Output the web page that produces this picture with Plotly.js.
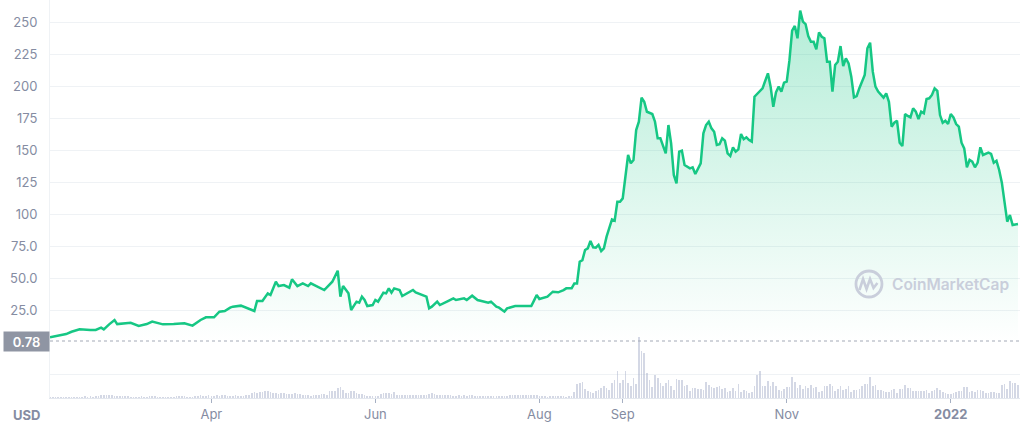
<!DOCTYPE html>
<html>
<head>
<meta charset="utf-8">
<script src="https://cdn.plot.ly/plotly-3.0.1.min.js"></script>
<style>
  html, body { margin: 0; padding: 0; background: #ffffff; }
  #chart { width: 1024px; height: 425px; }
</style>
</head>
<body>
<div id="chart"></div>
<script>
// ---- price series (USD) ----
const priceDates = [
  '2021-01-31','2021-02-04','2021-02-06','2021-02-08','2021-02-11','2021-02-15','2021-02-17','2021-02-19','2021-02-20','2021-02-22',
  '2021-02-24','2021-02-25','2021-03-01','2021-03-02','2021-03-05','2021-03-08','2021-03-10','2021-03-12','2021-03-14','2021-03-18',
  '2021-03-22','2021-03-25','2021-03-28','2021-03-30','2021-04-02','2021-04-04','2021-04-06','2021-04-08','2021-04-09','2021-04-12',
  '2021-04-13','2021-04-15','2021-04-17','2021-04-18','2021-04-20','2021-04-22','2021-04-23','2021-04-25','2021-04-26','2021-04-28',
  '2021-04-30','2021-05-01','2021-05-03','2021-05-05','2021-05-07','2021-05-08','2021-05-10','2021-05-13','2021-05-16','2021-05-18',
  '2021-05-19','2021-05-20','2021-05-22','2021-05-23','2021-05-25','2021-05-26','2021-05-27','2021-05-28','2021-05-29','2021-05-31',
  '2021-06-01','2021-06-02','2021-06-04','2021-06-05','2021-06-06','2021-06-07','2021-06-08','2021-06-10','2021-06-11','2021-06-13',
  '2021-06-15','2021-06-16','2021-06-17','2021-06-20','2021-06-21','2021-06-22','2021-06-24','2021-06-25','2021-06-28','2021-06-30',
  '2021-07-01','2021-07-04','2021-07-05','2021-07-07','2021-07-09','2021-07-11','2021-07-13','2021-07-14','2021-07-16','2021-07-17',
  '2021-07-19','2021-07-20','2021-07-23','2021-07-28','2021-07-29','2021-07-30','2021-07-31','2021-08-01','2021-08-04','2021-08-06',
  '2021-08-08','2021-08-10','2021-08-11','2021-08-13','2021-08-14','2021-08-15','2021-08-16','2021-08-17','2021-08-18','2021-08-19',
  '2021-08-20','2021-08-21','2021-08-22','2021-08-23','2021-08-24','2021-08-25','2021-08-26','2021-08-28','2021-08-29','2021-08-30',
  '2021-08-31','2021-09-01','2021-09-03','2021-09-04','2021-09-05','2021-09-06','2021-09-07','2021-09-08','2021-09-09','2021-09-10',
  '2021-09-12','2021-09-13','2021-09-14','2021-09-15','2021-09-16','2021-09-17','2021-09-18','2021-09-19','2021-09-20','2021-09-21',
  '2021-09-22','2021-09-23','2021-09-24','2021-09-26','2021-09-27','2021-09-28','2021-09-30','2021-10-01','2021-10-02','2021-10-03',
  '2021-10-04','2021-10-05','2021-10-06','2021-10-07','2021-10-08','2021-10-09','2021-10-10','2021-10-11','2021-10-12','2021-10-13',
  '2021-10-14','2021-10-15','2021-10-16','2021-10-17','2021-10-18','2021-10-19','2021-10-20','2021-10-22','2021-10-23','2021-10-25',
  '2021-10-26','2021-10-27','2021-10-28','2021-10-29','2021-10-30','2021-10-31','2021-11-01','2021-11-02','2021-11-03','2021-11-04',
  '2021-11-05','2021-11-06','2021-11-07','2021-11-08','2021-11-09','2021-11-10','2021-11-11','2021-11-12','2021-11-13','2021-11-14',
  '2021-11-15','2021-11-16','2021-11-17','2021-11-18','2021-11-19','2021-11-20','2021-11-21','2021-11-22','2021-11-23','2021-11-24',
  '2021-11-25','2021-11-26','2021-11-27','2021-11-28','2021-11-29','2021-11-30','2021-12-01','2021-12-02','2021-12-03','2021-12-04',
  '2021-12-05','2021-12-07','2021-12-08','2021-12-09','2021-12-10','2021-12-11','2021-12-12','2021-12-13','2021-12-14','2021-12-15',
  '2021-12-16','2021-12-17','2021-12-18','2021-12-19','2021-12-20','2021-12-21','2021-12-22','2021-12-23','2021-12-24','2021-12-25',
  '2021-12-26','2021-12-27','2021-12-28','2021-12-29','2021-12-30','2021-12-31','2022-01-01','2022-01-02','2022-01-03','2022-01-04',
  '2022-01-05','2022-01-06','2022-01-07','2022-01-08','2022-01-09','2022-01-10','2022-01-11','2022-01-12','2022-01-13','2022-01-14',
  '2022-01-15','2022-01-16','2022-01-17','2022-01-18','2022-01-19','2022-01-20','2022-01-22','2022-01-23','2022-01-24','2022-01-26'
];
const priceValues = [
  3.7,5.7,6.2,8.0,9.9,9.4,9.4,11.2,9.9,13.8,
  17.2,14.0,14.6,15.0,12.5,14.0,15.9,14.6,13.8,14.0,
  14.6,12.8,17.2,19.3,19.3,23.7,24.2,26.8,27.6,28.4,
  27.6,25.5,24.2,32.0,32.0,38.0,36.7,47.1,43.7,44.5,
  42.4,49.0,43.7,45.8,43.7,45.8,43.7,40.6,47.1,55.7,
  35.4,43.7,38.0,25.0,31.5,30.7,35.4,32.8,28.1,28.9,
  32.8,31.5,38.5,38.0,41.9,38.5,41.9,40.6,35.9,38.0,
  40.6,38.8,38.0,35.4,26.3,27.6,31.5,28.9,32.0,34.1,
  32.8,34.1,32.8,36.2,32.8,32.0,30.7,31.5,27.6,26.8,
  23.7,26.3,28.1,28.1,28.1,32.3,36.7,33.6,35.4,39.3,
  38.8,40.6,41.9,41.9,45.8,45.8,62.7,64.0,71.9,73.2,
  78.9,74.0,73.7,75.8,71.1,73.2,82.3,95.8,94.8,109.6,
  109.6,112.2,146.1,139.6,142.2,165.6,172.1,190.9,187.7,179.9,
  178.1,172.1,159.1,159.1,153.9,147.4,169.5,155.2,130.5,124.0,
  148.7,149.5,138.3,135.7,136.5,131.3,139.6,163.0,169.5,172.1,
  166.9,164.3,153.9,154.5,159.1,157.3,147.4,145.3,152.1,148.7,
  150.5,162.5,158.4,159.9,157.8,156.5,191.6,196.3,198.2,209.9,
  199.5,183.8,195.1,199.5,195.6,202.6,203.4,220.0,243.2,246.9,
  237.3,258.9,250.3,248.4,239.0,234.6,234.6,228.7,241.9,238.5,
  237.3,219.0,219.0,195.6,216.4,219.0,231.2,215.6,221.6,217.7,
  207.3,191.2,192.2,198.2,203.4,208.6,229.5,233.8,211.2,199.5,
  195.6,190.9,194.3,187.7,168.2,171.3,172.9,155.7,153.1,178.1,
  176.6,175.5,182.6,180.0,174.2,180.0,178.7,189.8,190.4,193.0,
  198.2,196.3,177.3,171.3,172.9,170.3,178.1,175.5,170.3,168.2,
  155.7,151.3,136.5,142.2,140.9,136.5,140.1,152.1,146.1,146.9,
  147.9,146.9,140.1,141.6,134.4,124.5,94.0,99.2,91.4,92.2
];

// ---- daily trading volume (units of 100M USD), one value per day from volumeStart ----
const volumeStart = '2021-01-31';
const volumeValues = [
  2,
  // Feb
  2,2,2,2,2,2,2,2,2,2,2,2,4,2,4,2,4,4,6,6,6,6,6,4,4,4,4,4,
  // Mar
  4,2,2,2,2,4,2,2,4,4,4,2,2,2,2,2,2,2,4,4,4,4,2,2,2,4,4,6,4,4,6,
  // Apr
  4,4,6,4,6,6,4,4,4,6,4,4,4,6,6,10,12,10,12,12,14,14,12,10,10,8,10,10,8,8,
  // May
  8,10,8,8,6,6,6,4,6,6,6,8,8,6,14,14,14,20,22,16,10,10,14,14,10,8,8,6,4,4,4,
  // Jun
  4,4,8,10,10,10,8,12,6,6,6,6,6,6,6,6,6,6,6,6,8,10,8,6,6,6,6,6,6,4,
  // Jul
  4,6,4,6,4,6,6,4,4,4,4,4,4,4,4,4,4,4,4,4,6,6,6,6,6,6,6,6,6,6,6,
  // Aug 1-13
  4,4,4,2,4,4,4,4,4,4,2,4,4,
  // Aug 14 - Sep 6
  12,28,30,32,18,14,12,10,14,16,20,24,20,16,30,36,54,30,36,54,30,24,40,28,
  // Sep 7
  122,
  // Sep 8 - Oct 31
  94,90,50,36,22,46,40,30,24,30,36,24,16,38,36,36,24,26,14,20,
  20,18,18,16,32,26,22,20,22,24,18,20,12,14,20,14,28,12,16,14,
  10,12,24,46,54,24,24,34,24,32,24,16,14,18,
  // Nov 1 - Dec 1
  22,22,42,32,20,26,18,24,20,26,20,22,12,14,24,24,28,24,14,18,
  24,16,18,24,12,16,16,18,24,28,28,
  // Dec 2
  42,
  // Dec 3 - Jan 26
  24,26,16,16,14,12,12,16,18,10,18,18,26,20,20,14,14,14,14,14,
  16,10,14,16,20,16,12,10,8,8,10,12,14,14,22,22,12,14,12,16,
  16,14,10,10,12,12,10,10,26,28,18,34,30,30,26
];

// ---- axis ticks ----
const xTickVals = ['2021-04-01','2021-06-01','2021-08-01','2021-09-01','2021-11-01','2022-01-01'];
const xTickText = ['Apr','Jun','Aug','Sep','Nov','<b>2022</b>'];
const yTickVals = [-25, 25, 50, 75, 100, 125, 150, 175, 200, 225, 250];
const yTickText = ['', '25.0', '50.0', '75.0', '100', '125', '150', '175', '200', '225', '250'];
const referencePrice = 0.78;
const xRange = ['2021-01-31', '2022-01-26 18:00'];

// build daily dates for the volume bars
const volumeDates = [];
{
  const d0 = new Date(volumeStart + 'T00:00:00Z');
  for (let i = 0; i < volumeValues.length; i++) {
    const d = new Date(d0.getTime() + i * 86400000);
    volumeDates.push(d.toISOString().slice(0, 10));
  }
}

const green = '#16c784';
const gridColor = '#eff2f5';
const labelColor = '#858ca2';
const watermarkColor = '#c9cedb';

const volumeTrace = {
  type: 'bar',
  x: volumeDates,
  y: volumeValues,
  xaxis: 'x',
  yaxis: 'y2',
  width: 0.62 * 86400000,
  marker: { color: 'rgba(170,178,204,0.5)', line: { width: 0 } },
  hoverinfo: 'skip',
  showlegend: false
};

const priceTrace = {
  type: 'scatter',
  mode: 'lines',
  x: priceDates,
  y: priceValues,
  line: { color: green, width: 2.5, shape: 'linear' },
  fill: 'tozeroy',
  fillgradient: {
    type: 'vertical',
    colorscale: [[0, 'rgba(22,199,132,0.0)'], [1, 'rgba(22,199,132,0.32)']]
  },
  hoverinfo: 'skip',
  showlegend: false
};

const layout = {
  width: 1024,
  height: 425,
  margin: { l: 50, r: 4, t: 0, b: 27 },
  paper_bgcolor: '#ffffff',
  plot_bgcolor: '#ffffff',
  font: { family: 'Inter, "Noto Sans", sans-serif', color: labelColor, size: 13 },
  showlegend: false,
  bargap: 0,
  xaxis: {
    type: 'date',
    range: xRange,
    tickmode: 'array',
    tickvals: xTickVals,
    ticktext: xTickText,
    ticks: 'outside',
    ticklen: 4,
    tickwidth: 1,
    tickcolor: '#a6b0c3',
    showgrid: false,
    zeroline: false,
    showline: true,
    linecolor: '#e3e7ee',
    linewidth: 1,
    tickfont: { size: 13, color: labelColor },
    fixedrange: true
  },
  yaxis: {
    range: [-43.75, 267.19],
    tickmode: 'array',
    tickvals: yTickVals,
    ticktext: yTickText,
    showgrid: true,
    gridcolor: gridColor,
    gridwidth: 1,
    zeroline: false,
    showline: true,
    linecolor: gridColor,
    ticks: '',
    ticklabelstandoff: 9,
    tickfont: { size: 13, color: labelColor },
    fixedrange: true
  },
  yaxis2: {
    overlaying: 'y',
    range: [0, 796],
    visible: false,
    showgrid: false,
    zeroline: false,
    fixedrange: true
  },
  shapes: [
    {
      type: 'line', xref: 'paper', yref: 'y',
      x0: 0, x1: 1, y0: referencePrice, y1: referencePrice,
      line: { color: '#a3a9b6', width: 1, dash: 'dot' },
      layer: 'above'
    },
    // CoinMarketCap watermark logo
    {
      type: 'circle', xref: 'paper', yref: 'paper',
      x0: 0.8309, x1: 0.8577, y0: 0.2538, y1: 0.3191,
      line: { color: watermarkColor, width: 2.8 },
      layer: 'above'
    },
    {
      type: 'path', xref: 'paper', yref: 'paper',
      path: 'M 0.8345 0.2714 L 0.8382 0.2990 L 0.8418 0.2739 L 0.8454 0.2990 L 0.8490 0.2764 L 0.8530 0.2889',
      line: { color: watermarkColor, width: 2.6 },
      layer: 'above'
    }
  ],
  annotations: [
    {
      xref: 'paper', yref: 'y', x: 0, y: referencePrice,
      xanchor: 'right', yanchor: 'middle',
      text: String(referencePrice),
      showarrow: false,
      bgcolor: '#8f95a3',
      width: 45, height: 19, borderpad: 0,
      align: 'center', valign: 'middle',
      font: { color: '#ffffff', size: 13, weight: 600 }
    },
    {
      xref: 'paper', yref: 'paper', x: -0.0242, y: -0.043,
      xanchor: 'center', yanchor: 'middle',
      text: '<b>USD</b>', showarrow: false,
      font: { color: labelColor, size: 13 }
    },
    {
      xref: 'paper', yref: 'paper', x: 0.8660, y: 0.2864,
      xanchor: 'left', yanchor: 'middle',
      text: 'CoinMarketCap', showarrow: false,
      font: { color: watermarkColor, size: 15.5, weight: 600 }
    }
  ]
};

Plotly.newPlot('chart', [volumeTrace, priceTrace], layout, { displayModeBar: false, staticPlot: true });
</script>
</body>
</html>
